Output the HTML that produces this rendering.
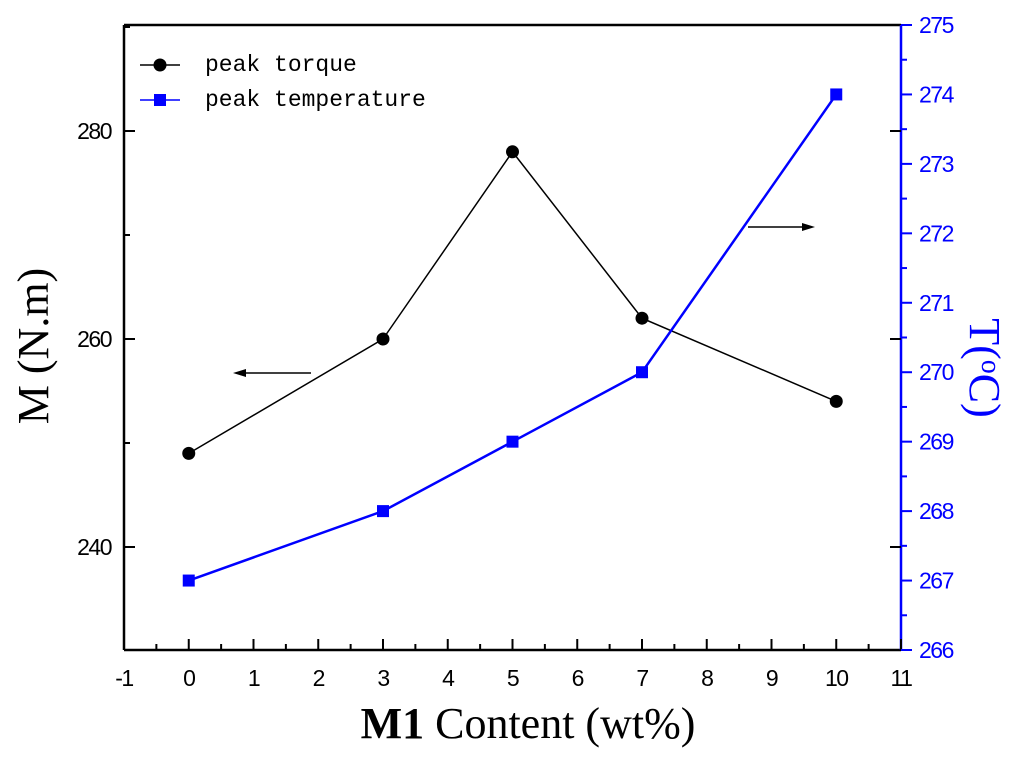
<!DOCTYPE html>
<html><head><meta charset="utf-8"><style>
html,body{margin:0;padding:0;background:#fff;}
svg{display:block;}
</style></head><body>
<svg id="chart" width="1024" height="763" viewBox="0 0 1024 763" xmlns="http://www.w3.org/2000/svg">
<g id="axes"></g>
<g id="marks"></g>
<g>
  <line x1="140" y1="65" x2="180" y2="65" stroke="#000" stroke-width="1.5"/>
  <circle cx="160" cy="65" r="6.5" fill="#000"/>
  <text x="205" y="71" font-family="Liberation Mono, monospace" font-size="23">peak torque</text>
  <line x1="140" y1="100" x2="180" y2="100" stroke="#00f" stroke-width="1.5"/>
  <rect x="154" y="94" width="12" height="12" fill="#00f"/>
  <text x="205" y="106" font-family="Liberation Mono, monospace" font-size="23">peak temperature</text>
</g>
<g>
  <line x1="311" y1="373" x2="240" y2="373" stroke="#000" stroke-width="1.5"/>
  <polygon points="233,373 246,369 246,377" fill="#000"/>
</g>
<g>
  <line x1="748" y1="227" x2="808" y2="227" stroke="#000" stroke-width="1.5"/>
  <polygon points="815,227 802,223 802,231" fill="#000"/>
</g>
<text x="528" y="738" text-anchor="middle" font-family="Liberation Serif, serif" font-size="44"><tspan font-weight="bold">M1</tspan> Content (wt%)</text>
<text transform="translate(48,346) rotate(-90)" text-anchor="middle" font-family="Liberation Serif, serif" font-size="44">M (N.m)</text>
<text transform="translate(970,368) rotate(90)" text-anchor="middle" font-family="Liberation Serif, serif" font-size="44" fill="#00f">T(<tspan font-size="28" dy="-12">o</tspan><tspan dy="12">C)</tspan></text>
</svg>
<script>
const categories = [0, 3, 5, 7, 10];
const torqueValues = [249, 260, 278, 262, 254];
const tempValues = [267, 268, 269, 270, 274];
const xTicks = [-1,0,1,2,3,4,5,6,7,8,9,10,11];
const leftTicks = [240, 260, 280];
const rightTicks = [266,267,268,269,270,271,272,273,274,275];

const L=124, R=901, T=25, B=650;
const xS = v => L + (v + 1) * (R - L) / 12;
const yL = v => 547 - (v - 240) * 10.4;
const yR = v => 650 - (v - 266) * (B - T) / 9;
const NS='http://www.w3.org/2000/svg';
const axes=document.getElementById('axes'), marks=document.getElementById('marks');
function mk(tag, attrs, parent){const e=document.createElementNS(NS,tag);for(const k in attrs)e.setAttribute(k,attrs[k]);parent.appendChild(e);return e;}
const FS=23, LS=-1.5;

let e;
e=mk('line',{x1:L,y1:T,x2:R,y2:T,stroke:'#000','stroke-width':2.5},axes);


e=mk('line',{x1:L,y1:T,x2:L,y2:B,stroke:'#000','stroke-width':2.5},axes);


e=mk('line',{x1:L,y1:B,x2:R,y2:B,stroke:'#000','stroke-width':2.5},axes);


e=mk('line',{x1:R,y1:T,x2:R,y2:B,stroke:'#00f','stroke-width':2.5},axes);



xTicks.forEach((t,i)=>{
  const x=xS(t);
  mk('line',{x1:x,y1:B,x2:x,y2:B-11,stroke:'#000','stroke-width':2},axes);
  if(i<xTicks.length-1){const xm=xS(t+0.5);mk('line',{x1:xm,y1:B,x2:xm,y2:B-6,stroke:'#000','stroke-width':2},axes);}
  const tx=mk('text',{x:x,y:B+36,'text-anchor':'middle','font-family':'Liberation Sans, sans-serif','font-size':FS,'letter-spacing':LS},axes);
  tx.textContent=t;
  
  
});
[230,240,250,260,270,280,290].forEach(t=>{
  const y=yL(t); if(y<T||y>B) return;
  const major=leftTicks.includes(t);
  mk('line',{x1:L,y1:y,x2:L+(major?11:6),y2:y,stroke:'#000','stroke-width':2},axes);
  if(major) mk('line',{x1:R,y1:y,x2:R-11,y2:y,stroke:'#000','stroke-width':2},axes);
});
leftTicks.forEach(t=>{
  const tx=mk('text',{x:L-13,y:yL(t)+8,'text-anchor':'end','font-family':'Liberation Sans, sans-serif','font-size':FS,'letter-spacing':LS},axes);
  tx.textContent=t;
  
  
});
rightTicks.forEach((t,i)=>{
  const y=yR(t);
  mk('line',{x1:R,y1:y,x2:R+11,y2:y,stroke:'#00f','stroke-width':2},axes);
  if(i<rightTicks.length-1){const ym=yR(t+0.5);mk('line',{x1:R,y1:ym,x2:R+6,y2:ym,stroke:'#00f','stroke-width':2},axes);}
  const tx=mk('text',{x:R+18,y:y+8,'font-family':'Liberation Sans, sans-serif','font-size':FS,'letter-spacing':LS,fill:'#00f'},axes);
  tx.textContent=t;
  
  
});

e=mk('polyline',{points:categories.map((c,i)=>xS(c)+','+yL(torqueValues[i])).join(' '),fill:'none',stroke:'#000','stroke-width':1.5},marks);


e=mk('polyline',{points:categories.map((c,i)=>xS(c)+','+yR(tempValues[i])).join(' '),fill:'none',stroke:'#00f','stroke-width':2.5},marks);


categories.forEach((c,i)=>{
  const p=mk('circle',{cx:xS(c),cy:yL(torqueValues[i]),r:6.5,fill:'#000'},marks);
  
  
  const s=mk('rect',{x:xS(c)-6,y:yR(tempValues[i])-6,width:12,height:12,fill:'#00f'},marks);
  
  
});
</script>
</body></html>
